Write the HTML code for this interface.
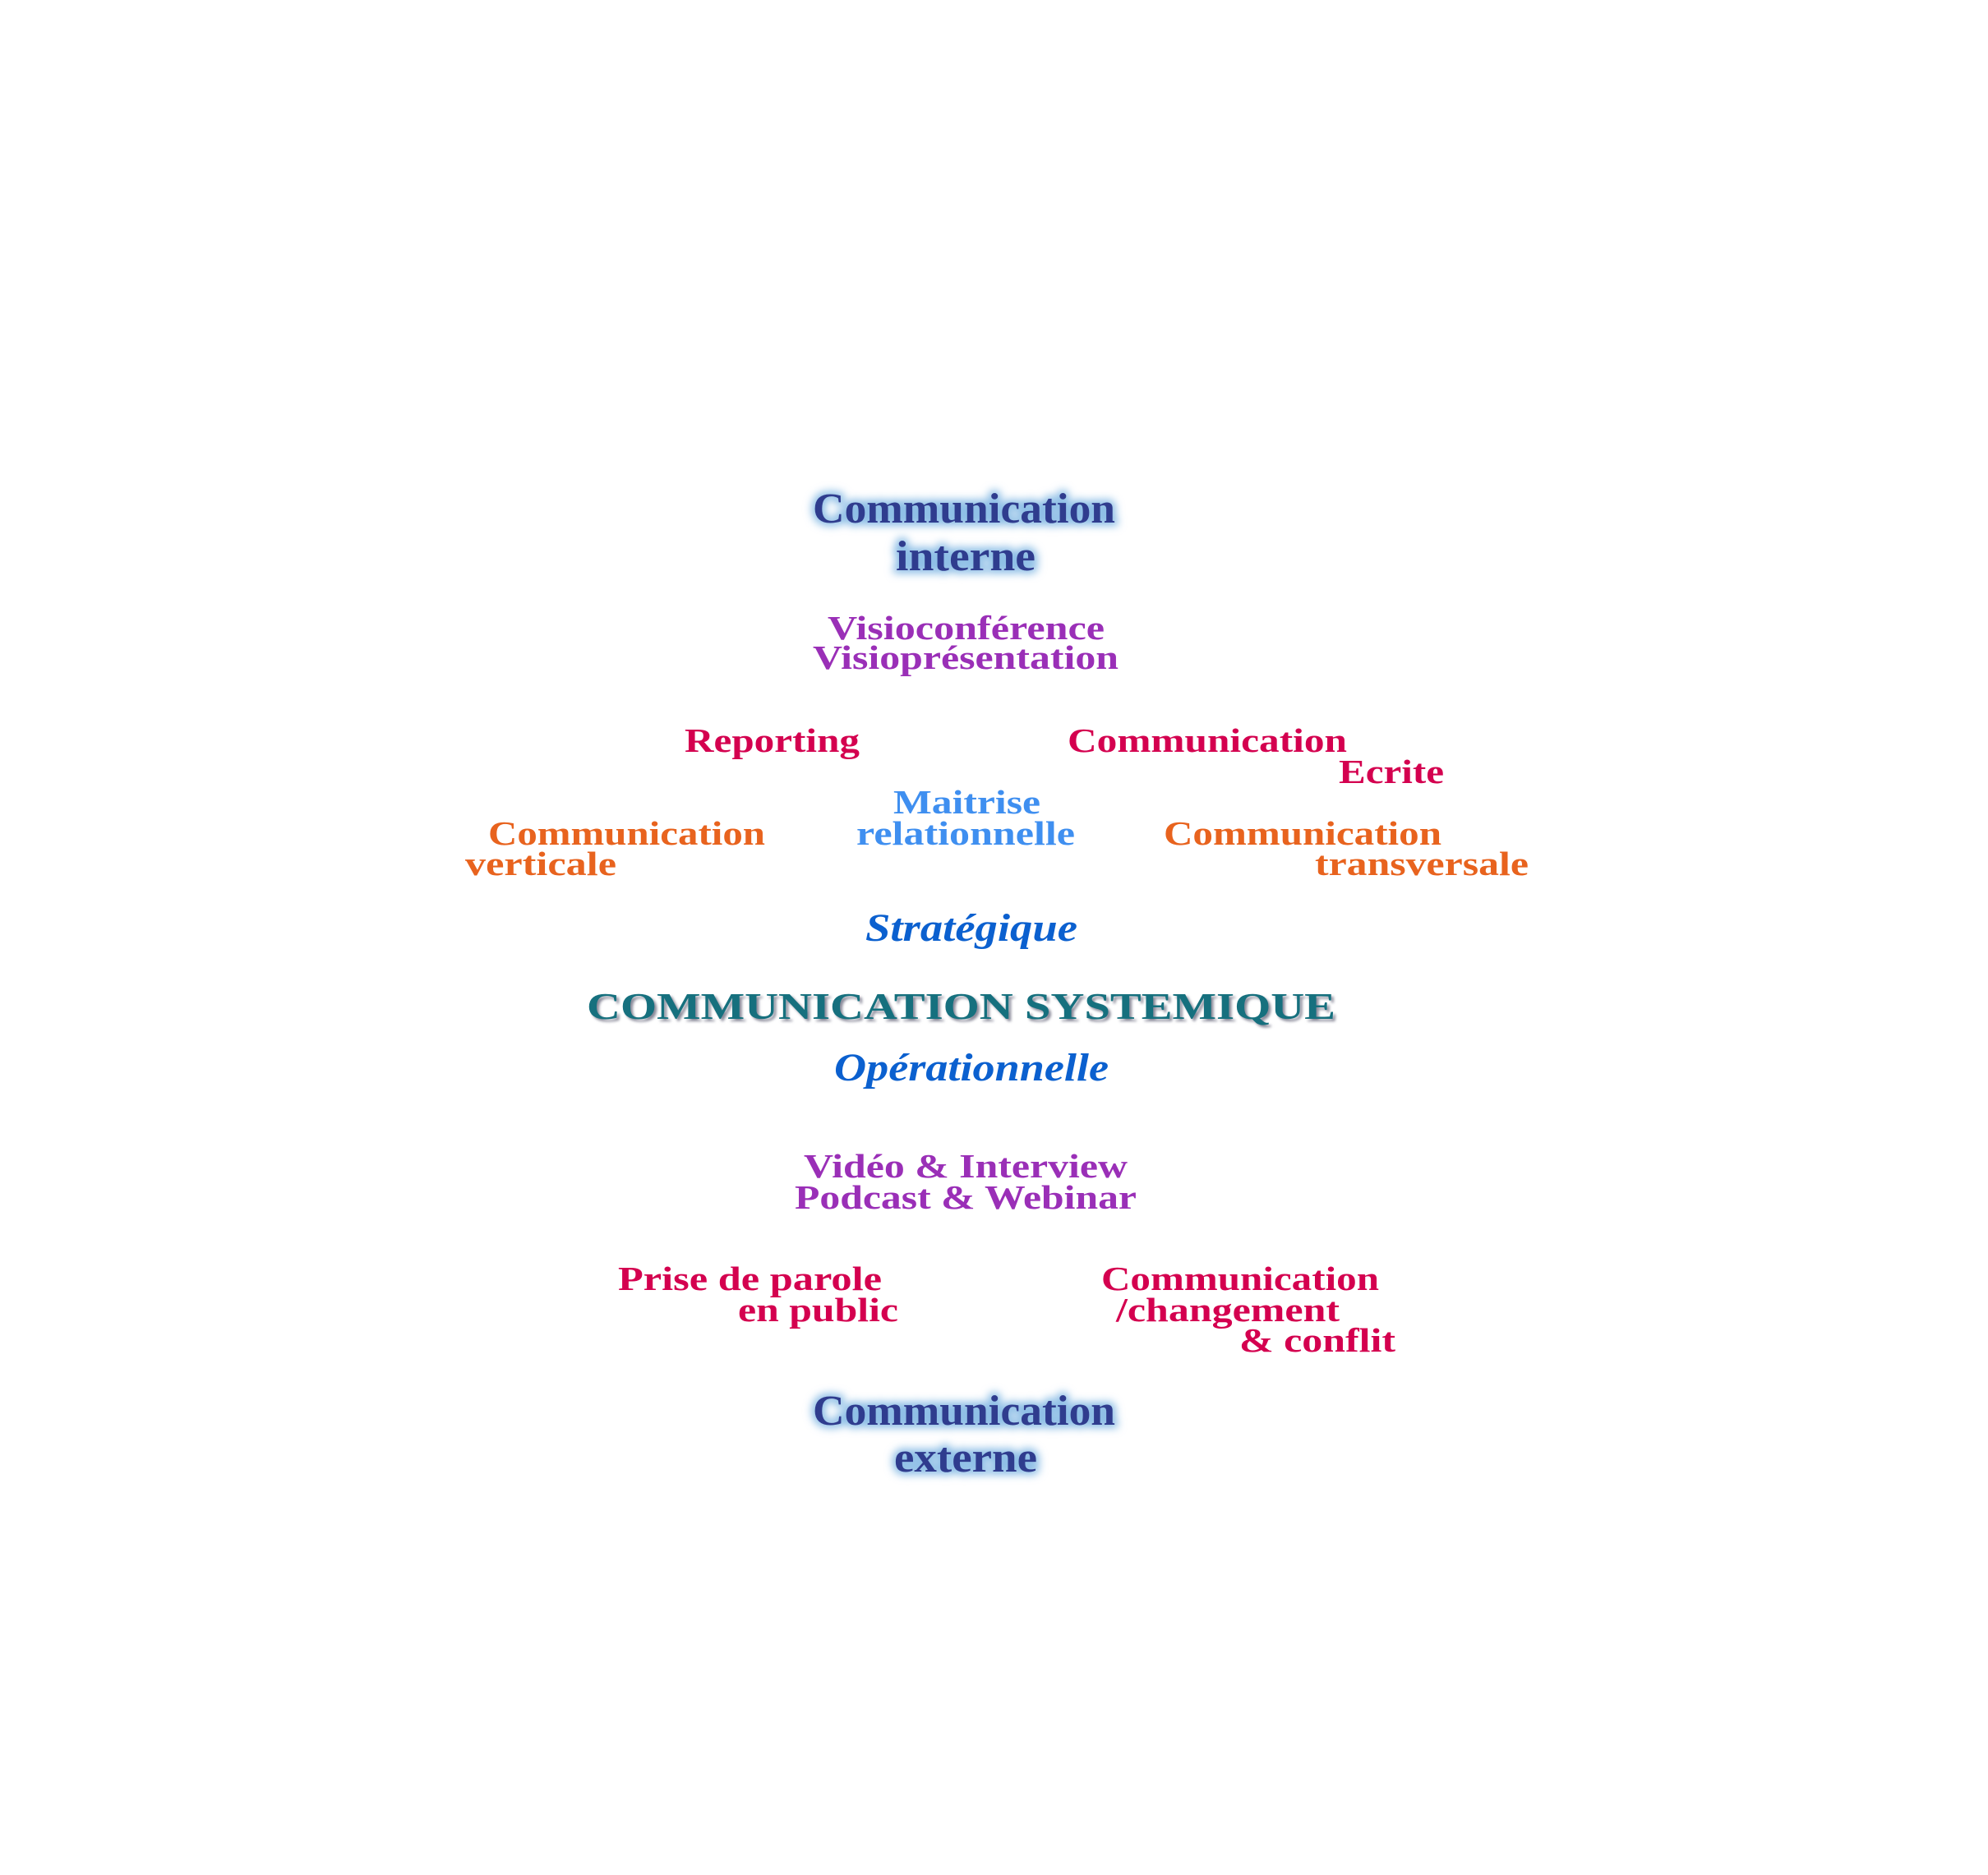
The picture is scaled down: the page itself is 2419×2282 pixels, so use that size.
<!DOCTYPE html>
<html><head><meta charset="utf-8"><style>
html,body{margin:0;padding:0;background:#fff;}
svg{display:block;}
text{font-family:"Liberation Serif",serif;font-weight:bold;}
</style></head><body>
<svg width="2419" height="2282" viewBox="0 0 2419 2282" xmlns="http://www.w3.org/2000/svg">
<defs>
<filter id="glow" x="-20%" y="-50%" width="140%" height="200%"><feGaussianBlur stdDeviation="5"/></filter>
<filter id="sh" x="-5%" y="-30%" width="110%" height="160%"><feGaussianBlur stdDeviation="1.5"/></filter>
</defs>
<g transform="translate(-9,-9)">
<g fill="#8fbfe6" stroke="#8fbfe6" stroke-width="8" filter="url(#glow)" font-size="52">
<text x="998" y="645" textLength="368" lengthAdjust="spacingAndGlyphs">Communication</text>
<text x="1099" y="703" textLength="170" lengthAdjust="spacingAndGlyphs">interne</text>
<text x="998" y="1743" textLength="368" lengthAdjust="spacingAndGlyphs">Communication</text>
<text x="1097" y="1800" textLength="174" lengthAdjust="spacingAndGlyphs">externe</text>
</g>
<g fill="#2f3c8e" font-size="52">
<text x="998" y="645" textLength="368" lengthAdjust="spacingAndGlyphs">Communication</text>
<text x="1099" y="703" textLength="170" lengthAdjust="spacingAndGlyphs">interne</text>
<text x="998" y="1743" textLength="368" lengthAdjust="spacingAndGlyphs">Communication</text>
<text x="1097" y="1800" textLength="174" lengthAdjust="spacingAndGlyphs">externe</text>
</g>
<g fill="#9a2fb7" font-size="41">
<text x="1016" y="787" textLength="337" lengthAdjust="spacingAndGlyphs">Visioconférence</text>
<text x="998" y="823" textLength="372" lengthAdjust="spacingAndGlyphs">Visioprésentation</text>
<text x="987" y="1442" textLength="394" lengthAdjust="spacingAndGlyphs">Vidéo &amp; Interview</text>
<text x="976" y="1480" textLength="416" lengthAdjust="spacingAndGlyphs">Podcast &amp; Webinar</text>
</g>
<g fill="#d4004f" font-size="41">
<text x="842" y="924" textLength="213" lengthAdjust="spacingAndGlyphs">Reporting</text>
<text x="1308" y="924" textLength="340" lengthAdjust="spacingAndGlyphs">Communication</text>
<text x="1638" y="962" textLength="128" lengthAdjust="spacingAndGlyphs">Ecrite</text>
<text x="761" y="1579" textLength="321" lengthAdjust="spacingAndGlyphs">Prise de parole</text>
<text x="907" y="1617" textLength="195" lengthAdjust="spacingAndGlyphs">en public</text>
<text x="1349" y="1579" textLength="338" lengthAdjust="spacingAndGlyphs">Communication</text>
<text x="1367" y="1617" textLength="272" lengthAdjust="spacingAndGlyphs">/changement</text>
<text x="1517" y="1654" textLength="190" lengthAdjust="spacingAndGlyphs">&amp; conflit</text>
</g>
<g fill="#3f8ff0" font-size="41">
<text x="1096" y="999" textLength="179" lengthAdjust="spacingAndGlyphs">Maitrise</text>
<text x="1051" y="1037" textLength="266" lengthAdjust="spacingAndGlyphs">relationnelle</text>
</g>
<g fill="#e8631e" font-size="41">
<text x="603" y="1037" textLength="337" lengthAdjust="spacingAndGlyphs">Communication</text>
<text x="575" y="1074" textLength="184" lengthAdjust="spacingAndGlyphs">verticale</text>
<text x="1425" y="1037" textLength="338" lengthAdjust="spacingAndGlyphs">Communication</text>
<text x="1609" y="1074" textLength="260" lengthAdjust="spacingAndGlyphs">transversale</text>
</g>
<g fill="#0b60cf" font-size="48" font-style="italic">
<text x="1062" y="1154" textLength="258" lengthAdjust="spacingAndGlyphs">Stratégique</text>
<text x="1024" y="1324" textLength="334" lengthAdjust="spacingAndGlyphs">Opérationnelle</text>
</g>
</g>
<text x="717" y="1243" font-size="46" fill="#8a8a9a" filter="url(#sh)" textLength="911" lengthAdjust="spacingAndGlyphs">COMMUNICATION  SYSTEMIQUE</text>
<text x="714" y="1240" font-size="46" fill="#16707e" textLength="911" lengthAdjust="spacingAndGlyphs">COMMUNICATION  SYSTEMIQUE</text>
</svg>
</body></html>
